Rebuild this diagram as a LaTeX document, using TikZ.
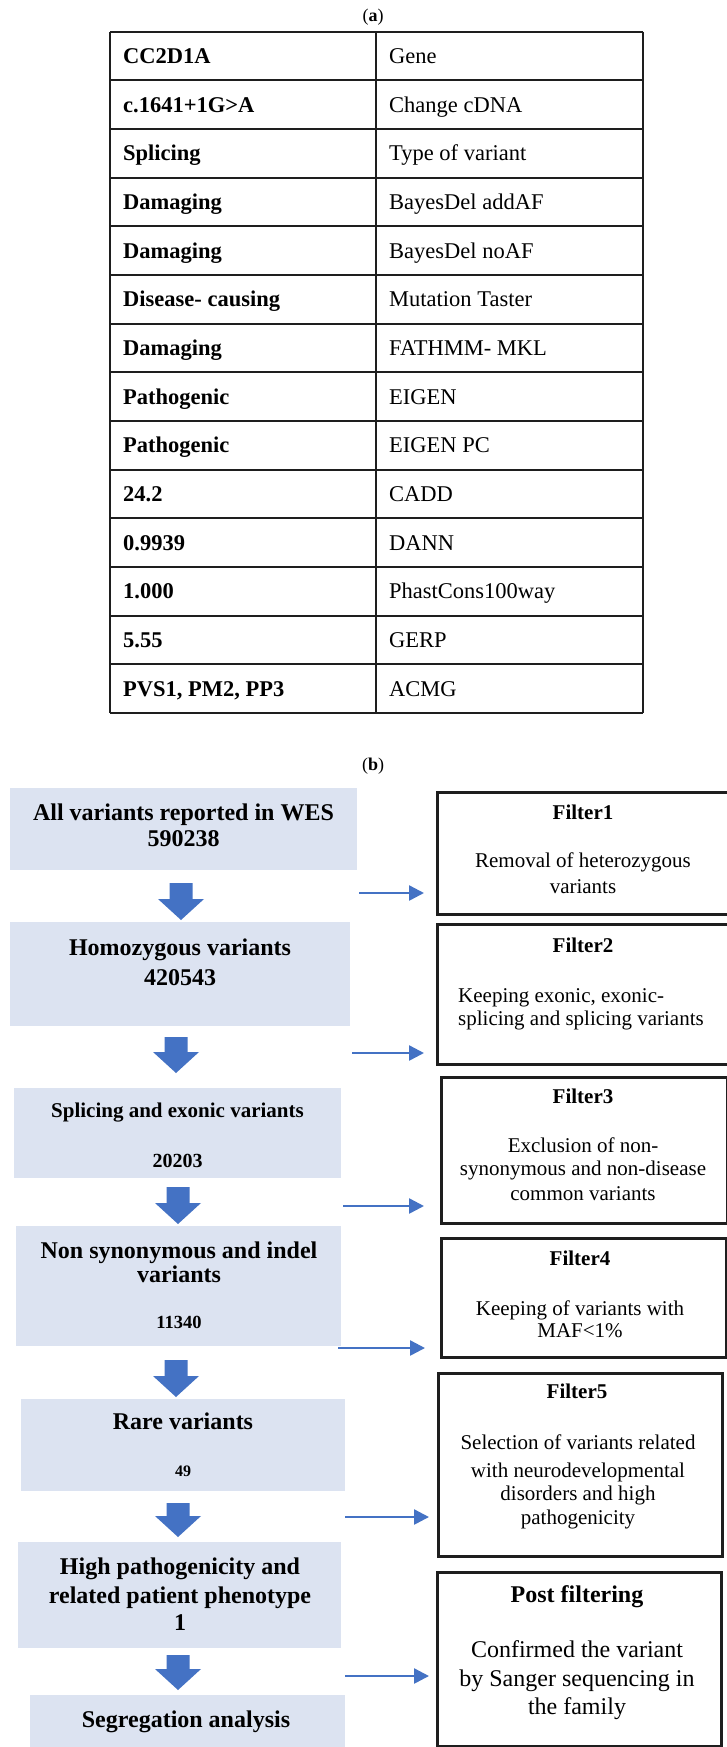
\documentclass[tikz,border=0pt]{standalone}
\usepackage{fontspec}
\setmainfont{Liberation Serif}
\usetikzlibrary{arrows.meta}
\definecolor{boxfill}{HTML}{DCE3F1}
\definecolor{arrblue}{HTML}{4472C4}
\definecolor{tabline}{HTML}{1E1E1E}
\newcommand\fsz[1]{\fontsize{#1}{#1}\selectfont}
\newcommand\acmgtxt{PVS1, PM2, PP3}
\newcommand\blkarrow[3]{\fill[arrblue] (#1-11.5,#2) -- (#1+11.5,#2) -- (#1+11.5,#3-21) -- (#1+23,#3-21) -- (#1,#3) -- (#1-23,#3-21) -- (#1-11.5,#3-21) -- cycle;}
\begin{document}
\begin{tikzpicture}[x=1pt,y=-1pt,
  tb/.style={inner sep=0pt, anchor=base west, font=\fsz{22.5}\bfseries},
  tr/.style={inner sep=0pt, anchor=base west, font=\fsz{22.5}},
  lb/.style={inner sep=0pt, anchor=base, font=\fsz{24}\bfseries},
  fb/.style={inner sep=0pt, anchor=base, font=\fsz{21}\bfseries},
  fr/.style={inner sep=0pt, anchor=base, font=\fsz{21}},
  lbox/.style={fill=boxfill, draw=none, inner sep=0pt, anchor=north west},
  fbox/.style={draw=tabline, line width=2.5pt, fill=white, inner sep=0pt, anchor=north west},
  tabrule/.style={draw=tabline, line width=2pt},
  thinarr/.style={draw=arrblue, line width=2.5pt, -{Triangle[length=15pt,width=15pt]}}]
\useasboundingbox (0,0) rectangle (727,1747);
\clip (0,0) rectangle (727,1747);
\fill[white] (0,0) rectangle (727,1747);

% ---------- (a) table ----------
\node[inner sep=0pt, anchor=base, font=\fsz{18}] (capa) at (373,22) {(\textbf{a})};
\foreach \i in {0,...,14}{
  \draw[tabrule] (110,31.7+48.66*\i) -- (643,31.7+48.66*\i);
}
\draw[tabrule] (110,31.7) -- (110,713);
\draw[tabrule] (376,31.7) -- (376,713);
\draw[tabrule] (643,31.7) -- (643,713);
\foreach \a/\b [count=\i from 0] in {CC2D1A/Gene, c.1641+1G>A/Change cDNA, Splicing/Type of variant, Damaging/BayesDel addAF, Damaging/BayesDel noAF, Disease- causing/Mutation Taster, Damaging/FATHMM- MKL, Pathogenic/EIGEN, Pathogenic/EIGEN PC, 24.2/CADD, 0.9939/DANN, 1.000/PhastCons100way, 5.55/GERP, \acmgtxt/ACMG}{
  \node[tb] (k\i) at (123,{31.7+48.66*(\i+0.5)+7.5}) {\a};
  \node[tr] (v\i) at (389,{31.7+48.66*(\i+0.5)+7.5}) {\b};
}

% ---------- (b) flowchart ----------
\node[inner sep=0pt, anchor=base, font=\fsz{18}] (capb) at (373,770) {(\textbf{b})};

% left boxes
\node[lbox, minimum width=347, minimum height=82] (b1) at (10,788) {};
\node[lbox, minimum width=340, minimum height=104] (b2) at (10,922) {};
\node[lbox, minimum width=327, minimum height=90] (b3) at (14,1088) {};
\node[lbox, minimum width=325, minimum height=120] (b4) at (16,1226) {};
\node[lbox, minimum width=324, minimum height=92] (b5) at (21,1399) {};
\node[lbox, minimum width=323, minimum height=106] (b6) at (18,1542) {};
\node[lbox, minimum width=315, minimum height=70] (b7) at (30,1695) {};

\node[lb] (b1a) at (183.5,820) {All variants reported in WES};
\node[lb] (b1b) at (183.5,846) {590238};
\node[lb] (b2a) at (180,955) {Homozygous variants};
\node[lb] (b2b) at (180,985) {420543};
\node[lb, font=\fsz{21}\bfseries] (b3a) at (177.5,1117) {Splicing and exonic variants};
\node[lb, font=\fsz{20}\bfseries] (b3b) at (177.5,1167) {20203};
\node[lb] (b4a) at (179,1258) {Non synonymous and indel};
\node[lb] (b4b) at (179,1282) {variants};
\node[lb, font=\fsz{18.5}\bfseries] (b4c) at (179,1328) {11340};
\node[lb] (b5a) at (183,1429) {Rare variants};
\node[lb, font=\fsz{16}\bfseries] (b5b) at (183,1476) {49};
\node[lb] (b6a) at (180,1574) {High pathogenicity and};
\node[lb] (b6b) at (180,1603) {related patient phenotype};
\node[lb] (b6c) at (180,1630) {1};
\node[lb] (b7a) at (186,1727) {Segregation analysis};

% block arrows
\blkarrow{181}{883}{920}
\blkarrow{176}{1037}{1073}
\blkarrow{178}{1187}{1224}
\blkarrow{176}{1360}{1397}
\blkarrow{178}{1503}{1537}
\blkarrow{178}{1655}{1690}

% right boxes
\node[fbox, minimum width=304, minimum height=122] (f1) at (436,791) {};
\node[fbox, minimum width=304, minimum height=140] (f2) at (436,923) {};
\node[fbox, minimum width=286, minimum height=146] (f3) at (440,1076) {};
\node[fbox, minimum width=285, minimum height=119] (f4) at (440,1237) {};
\node[fbox, minimum width=284, minimum height=183] (f5) at (437,1372) {};
\node[fbox, minimum width=284, minimum height=174] (pf) at (436,1571) {};

\node[fb] (f1a) at (583,819) {Filter1};
\node[fr] (f1b) at (583,867) {Removal of heterozygous};
\node[fr] (f1c) at (583,893) {variants};
\node[fb] (f2a) at (583,952) {Filter2};
\node[fr, anchor=base west] (f2b) at (458,1002) {Keeping exonic, exonic-};
\node[fr, anchor=base west] (f2c) at (458,1025) {splicing and splicing variants};
\node[fb] (f3a) at (583,1103) {Filter3};
\node[fr] (f3b) at (583,1152) {Exclusion of non-};
\node[fr] (f3c) at (583,1175) {synonymous and non-disease};
\node[fr] (f3d) at (583,1200) {common variants};
\node[fb] (f4a) at (580,1265) {Filter4};
\node[fr] (f4b) at (580,1315) {Keeping of variants with};
\node[fr] (f4c) at (580,1337) {MAF<1\%};
\node[fb] (f5a) at (577,1398) {Filter5};
\node[fr] (f5b) at (578,1449) {Selection of variants related};
\node[fr] (f5c) at (578,1477) {with neurodevelopmental};
\node[fr] (f5d) at (578,1500) {disorders and high};
\node[fr] (f5e) at (578,1524) {pathogenicity};
\node[lb] (pfa) at (577,1602) {Post filtering};
\node[lb, font=\fsz{24}] (pfb) at (577,1657) {Confirmed the variant};
\node[lb, font=\fsz{24}] (pfc) at (577,1686) {by Sanger sequencing in};
\node[lb, font=\fsz{24}] (pfd) at (577,1714) {the family};

% thin arrows
\coordinate (t1s) at (359,893);  \coordinate (t1e) at (424,893);
\coordinate (t2s) at (352,1053); \coordinate (t2e) at (424,1053);
\coordinate (t3s) at (343,1206); \coordinate (t3e) at (424,1206);
\coordinate (t4s) at (338,1348); \coordinate (t4e) at (425,1348);
\coordinate (t5s) at (345,1517); \coordinate (t5e) at (429,1517);
\coordinate (t6s) at (345,1676); \coordinate (t6e) at (429,1676);
\draw[thinarr] (t1s) -- (t1e);
\draw[thinarr] (t2s) -- (t2e);
\draw[thinarr] (t3s) -- (t3e);
\draw[thinarr] (t4s) -- (t4e);
\draw[thinarr] (t5s) -- (t5e);
\draw[thinarr] (t6s) -- (t6e);
\end{tikzpicture}
\end{document}
